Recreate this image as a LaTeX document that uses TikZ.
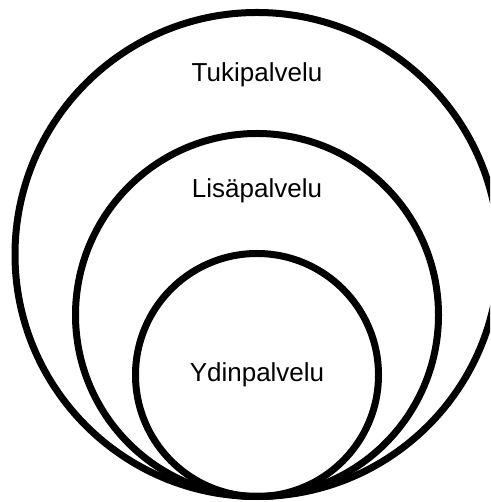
\documentclass[tikz,border=0pt]{standalone}
\usepackage{fontspec}
\setmainfont{Liberation Sans}
\begin{document}
\begin{tikzpicture}[x=1pt,y=1pt,
  ring/.style={draw=black,line width=7pt,circle,inner sep=0pt,fill=none},
  lbl/.style={font=\fontsize{26}{30}\selectfont,anchor=base,text=black,inner sep=0pt}]
\useasboundingbox (0,0) rectangle (490,502);
\clip (0,0) rectangle (490,502);
\fill[white] (0,0) rectangle (490,502);
\node[ring,minimum size=484pt] (outer) at (257,247.5) {};
\node[ring,minimum size=363pt] (middle) at (257,187) {};
\node[ring,minimum size=243pt] (inner) at (257,127) {};
\node[lbl] (tuki) at (257,420) {Tukipalvelu};
\node[lbl] (lisa) at (257,304) {Lisäpalvelu};
\node[lbl] (ydin) at (257,120) {Ydinpalvelu};
\end{tikzpicture}
\end{document}
